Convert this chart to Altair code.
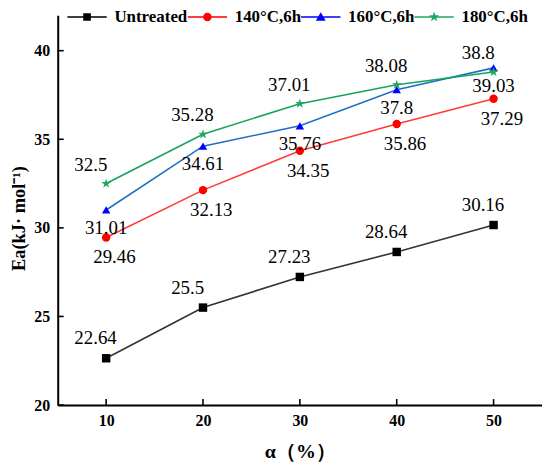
import altair as alt
import pandas as pd

alpha = [10, 20, 30, 40, 50]
series_names = ["Untreated", "140°C,6h", "160°C,6h", "180°C,6h"]
untreated = [22.64, 25.5, 27.23, 28.64, 30.16]
t140 = [29.46, 32.13, 34.35, 35.86, 37.29]
t160 = [31.01, 34.61, 35.76, 37.8, 39.03]
t180 = [32.5, 35.28, 37.01, 38.08, 38.8]
y_ticks = [20, 25, 30, 35, 40]
x_ticks = [10, 20, 30, 40, 50]

line_colors = ["#333333", "#FF3B3B", "#1F6FC5", "#17A35A"]
marker_colors = ["#000000", "#FF0000", "#0000FF", "#1FA85E"]

STAR = "M0,-1.2L0.27,-0.37L1.14,-0.37L0.44,0.14L0.71,0.97L0,0.46L-0.71,0.97L-0.44,0.14L-1.14,-0.37L-0.27,-0.37Z"
shapes = ["square", "circle", "triangle-up", STAR]

LINE = "M-4.4,-0.18H4.4V0.18H-4.4Z"
legend_shapes = [
    LINE + "M-0.85,-0.85H0.85V0.85H-0.85Z",
    LINE + "M0.95,0A0.95,0.95 0 1,1 -0.95,0A0.95,0.95 0 1,1 0.95,0Z",
    LINE + "M0,-1.05L1.1,0.85H-1.1Z",
    LINE + STAR,
]

rows = []
for name, vals in zip(series_names, [untreated, t140, t160, t180]):
    for a, v in zip(alpha, vals):
        rows.append({"alpha": a, "Ea": v, "series": name, "label": str(v)})
df = pd.DataFrame(rows)

FONT = "Liberation Serif"
W, H = 487, 392

xscale = alt.Scale(domain=[5, 55], nice=False, zero=False)
yscale = alt.Scale(domain=[20, 42], nice=False, zero=False)
xaxis = alt.Axis(values=x_ticks, title="α（%）", titleFontSize=20, titlePadding=13,
                 titleFontWeight="bold", labelPadding=8)
yaxis = alt.Axis(values=y_ticks, title="Ea(kJ·  mol⁻¹)", titleFontSize=18.5, titlePadding=5,
                 titleFontWeight="bold", labelPadding=8, titleY=204)

X = alt.X("alpha:Q", scale=xscale, axis=xaxis)
Y = alt.Y("Ea:Q", scale=yscale, axis=yaxis)

base = alt.Chart(df)

lines = base.mark_line(strokeWidth=1.6).encode(
    x=X, y=Y,
    stroke=alt.Stroke("series:N", scale=alt.Scale(domain=series_names, range=line_colors), legend=None),
    detail="series:N",
)

points = base.mark_point(filled=True, opacity=1, size=72, strokeWidth=0).encode(
    x=X, y=Y,
    fill=alt.Fill("series:N", scale=alt.Scale(domain=series_names, range=marker_colors), legend=None),
    shape=alt.Shape("series:N", scale=alt.Scale(domain=series_names, range=shapes), legend=None),
)

leg = alt.Legend(
    orient="none", legendX=21, legendY=-7, direction="horizontal", title=None,
    labelFont=FONT, labelFontSize=17, labelFontWeight="bold", labelColor="black",
    symbolSize=81, symbolStrokeWidth=0, symbolOpacity=1, labelOffset=19, columnPadding=-1,
)
legend_layer = base.mark_point(filled=True, opacity=0, size=81).encode(
    x=X, y=Y,
    fill=alt.Fill("series:N", scale=alt.Scale(domain=series_names, range=marker_colors), legend=leg),
    shape=alt.Shape("series:N", scale=alt.Scale(domain=series_names, range=legend_shapes), legend=leg),
)


def labels(name, **kw):
    return base.transform_filter(alt.datum.series == name).mark_text(
        font=FONT, fontSize=19, color="black", baseline="middle", **kw
    ).encode(x=X, y=Y, text="label:N")


lab_u = labels("Untreated", align="left", dx=-32, dy=-20)
lab_140 = labels("140°C,6h", align="left", dx=-13, dy=20)
lab_160 = labels("160°C,6h", align="center", dx=0, dy=18)
lab_180 = labels("180°C,6h", align="left", dx=-32, dy=-19)

ydf = pd.DataFrame({"Ea": y_ticks})
xdf = pd.DataFrame({"alpha": x_ticks})
yt = alt.Chart(ydf).mark_rule(color="black", strokeWidth=1.6).encode(
    y=Y, x=alt.value(0), x2=alt.value(6))
xt = alt.Chart(xdf).mark_rule(color="black", strokeWidth=1.6).encode(
    x=X, y=alt.value(H), y2=alt.value(H - 6))

chart = alt.layer(lines, points, legend_layer, lab_u, lab_140, lab_160, lab_180, yt, xt).resolve_scale(
    shape="independent", fill="independent"
).properties(
    width=W, height=H,
    background="white",
    autosize=alt.AutoSizeParams(type="none"),
    padding={"left": 50, "top": 6, "right": 0, "bottom": 56},
).configure_view(stroke=None).configure_axis(
    domainColor="black", domainWidth=2, ticks=False, tickSize=0, grid=False,
    labelFont=FONT, labelFontSize=16, labelFontWeight="bold", labelColor="black",
    titleFont=FONT, titleColor="black",
)

chart.save("out.html", embed_options={"renderer": "svg", "actions": False})
